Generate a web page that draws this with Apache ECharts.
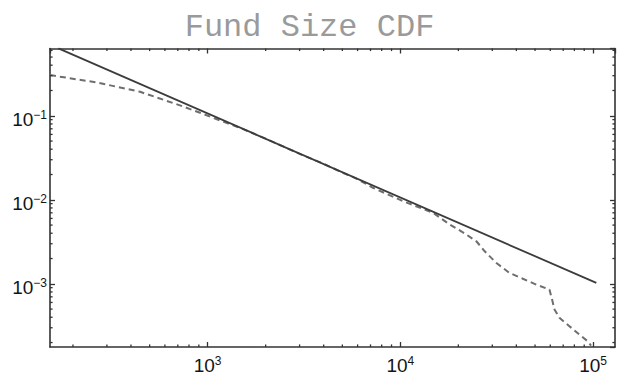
<!DOCTYPE html>
<html>
<head>
<meta charset="utf-8">
<script src="https://cdn.jsdelivr.net/npm/echarts@6/dist/echarts.min.js"></script>
<style>
html,body{margin:0;padding:0;background:#fff;}
#chart{width:619px;height:376px;}
</style>
</head>
<body>
<div id="chart"></div>
<script>
// ---- data ----
const titleText = 'Fund Size CDF';
const xRange = [152, 130000];
const yRange = [0.000177, 0.632];

// fitted power law (solid line)
const fitX = [168, 104000];
const fitY = [0.634, 0.001025];

// empirical CDF (dashed line)
const cdfX = [152, 266, 446, 718, 950, 1158, 1500, 2000, 3000, 4000, 5000, 6000, 7200,
  10340, 14800, 18000, 21500, 24800, 27400, 31400, 36800, 43200, 50700, 59400,
  61300, 63100, 66900, 75400, 84900, 93800, 97700];
const cdfY = [0.305, 0.249, 0.193, 0.133, 0.105, 0.088, 0.0705, 0.0535, 0.0352, 0.0268, 0.0211, 0.0176, 0.0139,
  0.00962, 0.0070, 0.0051, 0.0040, 0.00321, 0.00244, 0.00178, 0.00135, 0.00115, 0.00098, 0.000854,
  0.000649, 0.000494, 0.000394, 0.000313, 0.000249, 0.000207, 0.000184];

// minor tick values
const xMinorTicks = [200, 300, 400, 500, 600, 700, 800, 900,
  2000, 3000, 4000, 5000, 6000, 7000, 8000, 9000,
  20000, 30000, 40000, 50000, 60000, 70000, 80000, 90000];
const yMinorTicks = [0.0002, 0.0003, 0.0004, 0.0005, 0.0006, 0.0007, 0.0008, 0.0009,
  0.002, 0.003, 0.004, 0.005, 0.006, 0.007, 0.008, 0.009,
  0.02, 0.03, 0.04, 0.05, 0.06, 0.07, 0.08, 0.09,
  0.2, 0.3, 0.4, 0.5, 0.6];

// ---- chart ----
const AX = '#333333';
const LABEL_FONT = "'Liberation Sans', Arial, Helvetica, sans-serif";
const LABEL_COLOR = '#141414';
const labelRich = {
  b: {fontSize: 19, fontFamily: LABEL_FONT, color: LABEL_COLOR, verticalAlign: 'bottom', lineHeight: 17, height: 17},
  s: {fontSize: 12, fontFamily: LABEL_FONT, color: LABEL_COLOR, verticalAlign: 'top', lineHeight: 8, height: 8}
};
function powLabel(v) {
  const e = Math.round(Math.log10(v));
  const es = e < 0 ? '\u2212' + (-e) : String(e);
  return '{b|10}{s|' + es + '}';
}
function baseAxis(extra) {
  return Object.assign({
    type: 'log', logBase: 10,
    axisLine: {show: true, onZero: false, lineStyle: {color: AX, width: 1.6}},
    axisTick: {show: true, inside: true, length: 5, lineStyle: {color: AX, width: 1.3}},
    splitLine: {show: false},
    minorTick: {show: false},
    minorSplitLine: {show: false}
  }, extra);
}

const fitData = fitX.map((x, i) => [x, fitY[i]]);
const cdfData = cdfX.map((x, i) => [x, cdfY[i]]);

function minorTickRender(isX) {
  return function (params, api) {
    const cs = params.coordSys;
    const len = 2.6;
    let p, shape1, shape2;
    if (isX) {
      p = api.coord([api.value(0), yRange[0]]);
      const yb = cs.y + cs.height, yt = cs.y;
      shape1 = {x1: p[0], y1: yb, x2: p[0], y2: yb - len};
      shape2 = {x1: p[0], y1: yt, x2: p[0], y2: yt + len};
    } else {
      p = api.coord([xRange[0], api.value(1)]);
      const xl = cs.x, xr = cs.x + cs.width;
      shape1 = {x1: xl, y1: p[1], x2: xl + len, y2: p[1]};
      shape2 = {x1: xr, y1: p[1], x2: xr - len, y2: p[1]};
    }
    const style = {stroke: AX, lineWidth: 1.3};
    return {type: 'group', children: [
      {type: 'line', shape: shape1, style: style},
      {type: 'line', shape: shape2, style: style}
    ]};
  };
}

const chart = echarts.init(document.getElementById('chart'), null, {renderer: 'svg'});
chart.setOption({
  animation: false,
  backgroundColor: '#ffffff',
  title: {
    text: titleText, left: 'center', top: 6,
    textStyle: {fontFamily: "'Liberation Mono', 'Courier New', monospace", fontSize: 32, fontWeight: 'normal', color: '#9a9a9a'}
  },
  grid: {left: 50, right: 4, top: 48.5, bottom: 29, containLabel: false, outerBoundsMode: 'none'},
  xAxis: [
    baseAxis({position: 'bottom', min: xRange[0], max: xRange[1],
      axisLabel: {show: true, margin: 10, fontSize: 19, fontFamily: LABEL_FONT, color: LABEL_COLOR,
        showMinLabel: false, showMaxLabel: false, formatter: powLabel, rich: labelRich}}),
    baseAxis({position: 'top', min: xRange[0], max: xRange[1], axisLabel: {show: false}})
  ],
  yAxis: [
    baseAxis({position: 'left', min: yRange[0], max: yRange[1],
      axisLabel: {show: true, margin: 3, padding: [7, 0, 0, 0], fontSize: 19, fontFamily: LABEL_FONT, color: LABEL_COLOR,
        showMinLabel: false, showMaxLabel: false, formatter: powLabel, rich: labelRich}}),
    baseAxis({position: 'right', min: yRange[0], max: yRange[1], axisLabel: {show: false}})
  ],
  series: [
    {
      type: 'line', data: fitData, showSymbol: false, symbol: 'none',
      lineStyle: {color: '#3c3c3c', width: 1.8, type: 'solid'}, z: 3
    },
    {
      type: 'line', data: cdfData, showSymbol: false, symbol: 'none',
      lineStyle: {color: '#6e6e6e', width: 2, type: [6, 4]}, z: 2
    },
    {
      type: 'custom', renderItem: minorTickRender(true), clip: false, silent: true,
      data: xMinorTicks.map(v => [v, yRange[0]]), z: 5
    },
    {
      type: 'custom', renderItem: minorTickRender(false), clip: false, silent: true,
      data: yMinorTicks.map(v => [xRange[0], v]), z: 5
    }
  ]
});
</script>
</body>
</html>
